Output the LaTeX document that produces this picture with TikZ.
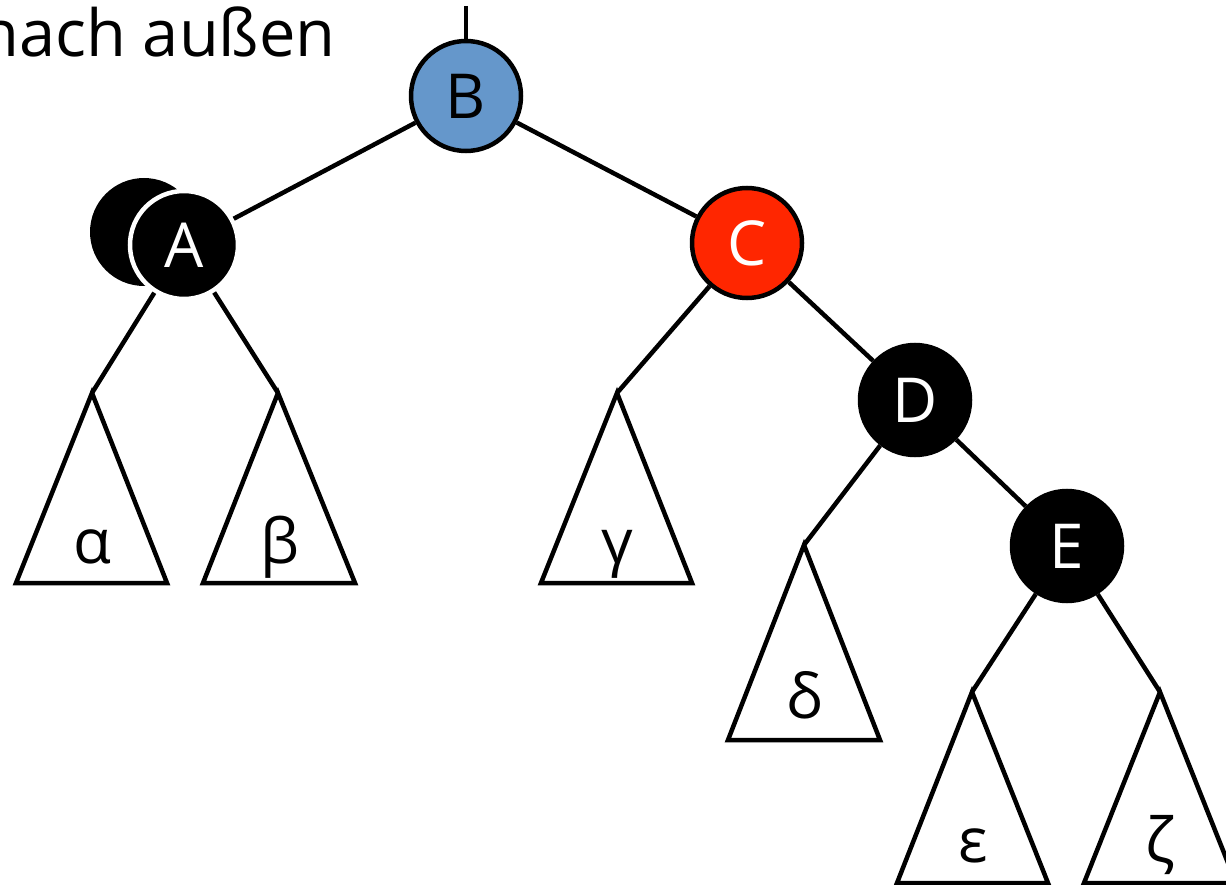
\documentclass[tikz,border=0pt]{standalone}
\usepackage{fontspec}
\setmainfont{Open Sans}
\begin{document}
\begin{tikzpicture}[x=1pt,y=-1pt,
  every node/.style={font=\fontsize{62}{70}\selectfont},
  rbnode/.style={circle,draw=black,line width=4.5pt,minimum size=110pt,inner sep=0pt},
  blacknode/.style={rbnode,fill=black,text=white},
  edge/.style={line width=4.5pt},
  subtree/.style={draw=black,line width=4.5pt,line join=miter}
]
\useasboundingbox (0,0) rectangle (1226,885);
\definecolor{bblue}{RGB}{101,151,203}
\definecolor{cred}{RGB}{255,38,0}

\node[anchor=base east,inner sep=0pt,font=\fontsize{65}{72}\selectfont] (title) at (336,57) {nach außen};

% shadow for double black A
\node[circle,fill=black,minimum size=108pt,inner sep=0pt] (Ash) at (144,232) {};

\node[rbnode,fill=bblue] (B) at (466,96) {B};
\node[rbnode,fill=black,draw=white,text=white,minimum size=108pt] (A) at (184,245) {A};
\node[rbnode,fill=cred,text=white] (C) at (747,243) {C};
\node[blacknode] (D) at (915,400) {D};
\node[blacknode] (E) at (1067,546) {E};

\coordinate (top) at (466,6);
% subtree apex coordinates
\coordinate (ta) at (92,393);
\coordinate (tb) at (278,393);
\coordinate (tg) at (617,393);
\coordinate (td) at (804,545);
\coordinate (te) at (972,692);
\coordinate (tz) at (1160,692);

\draw[edge] (top) -- (B);
\draw[edge] (B) -- (A);
\draw[edge] (B) -- (C);
\draw[edge] (A) -- (ta);
\draw[edge] (A) -- (tb);
\draw[edge] (C) -- (tg);
\draw[edge] (C) -- (D);
\draw[edge] (D) -- (td);
\draw[edge] (D) -- (E);
\draw[edge] (E) -- (te);
\draw[edge] (E) -- (tz);

\draw[subtree] (ta) -- (16,583) -- (167,583) -- cycle;
\draw[subtree] (tb) -- (203,583) -- (355,583) -- cycle;
\draw[subtree] (tg) -- (541,583) -- (692,583) -- cycle;
\draw[subtree] (td) -- (728,740) -- (880,740) -- cycle;
\draw[subtree] (te) -- (897,883) -- (1048,883) -- cycle;
\draw[subtree] (tz) -- (1084,883) -- (1236,883) -- cycle;

\node[anchor=base] (la) at (92,563) {α};
\node[anchor=base] (lb) at (280,563) {β};
\node[anchor=base] (lg) at (617,563) {γ};
\node[anchor=base] (ld) at (804,718) {δ};
\node[anchor=base] (le) at (973,862) {ε};
\node[anchor=base] (lz) at (1160,862) {ζ};
\end{tikzpicture}
\end{document}
